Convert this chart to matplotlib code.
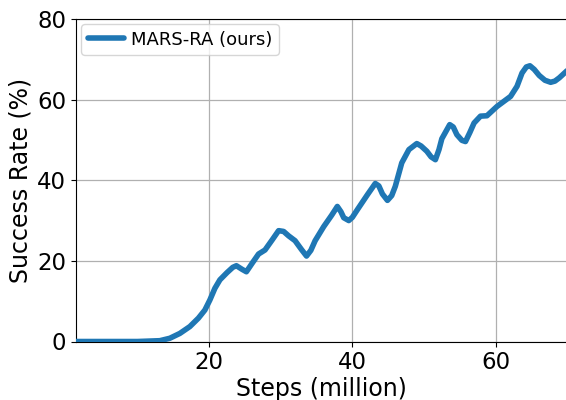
import matplotlib
matplotlib.use("Agg")
import matplotlib.pyplot as plt

# Training curve: success rate vs. environment steps (million)
steps = [1.4, 5.0, 10.0, 13.1, 14.5, 15.9, 17.3, 18.5, 19.4, 20.1, 20.8, 21.5,
         22.5, 23.3, 23.8, 24.6, 25.2, 26.0, 26.9, 27.8, 28.8, 29.7, 30.4,
         31.1, 32.0, 32.9, 33.6, 34.2, 34.8, 36.0, 37.1, 37.9, 38.4, 38.8,
         39.5, 40.0, 40.7, 42.1, 43.2, 43.7, 44.2, 44.9, 45.5, 46.0, 46.9,
         47.9, 49.0, 49.6, 50.4, 51.0, 51.6, 52.1, 52.5, 53.6, 54.1, 54.6,
         55.3, 55.8, 56.4, 57.0, 57.9, 58.8, 60.2, 62.1, 63.0, 63.7, 64.3,
         64.8, 65.4, 66.1, 66.9, 67.7, 68.3, 68.9, 70.0]
success = [0.0, 0.0, 0.0, 0.2, 0.8, 2.0, 3.7, 5.8, 7.8, 10.3, 13.2, 15.3,
           17.1, 18.4, 18.8, 17.9, 17.3, 19.4, 21.7, 22.7, 25.2, 27.5, 27.3,
           26.2, 25.0, 22.8, 21.2, 22.6, 25.0, 28.5, 31.3, 33.5, 32.2, 30.7,
           30.0, 30.8, 32.7, 36.4, 39.2, 38.6, 36.6, 35.0, 36.2, 38.5, 44.3,
           47.6, 49.1, 48.5, 47.2, 45.8, 45.1, 47.6, 50.3, 53.8, 53.2, 51.3,
           49.9, 49.6, 51.8, 54.2, 55.9, 56.0, 58.3, 60.8, 63.3, 66.6, 68.1,
           68.4, 67.5, 66.0, 64.8, 64.3, 64.6, 65.4, 67.2]

x_ticks = [20, 40, 60]
y_ticks = [0, 20, 40, 60, 80]

fig = plt.figure(figsize=(5.66, 4.0), dpi=100)
ax = fig.add_axes([76 / 566, 58.5 / 400, 1 - 76 / 566 + 0.002, 322.5 / 400])

ax.plot(steps, success, color="#1f77b4", linewidth=4, label="MARS-RA (ours)",
        solid_joinstyle="round", solid_capstyle="round", zorder=3)

ax.set_xlim(1.4, 70)
ax.set_ylim(0, 80)
ax.set_xticks(x_ticks)
ax.set_yticks(y_ticks)
ax.tick_params(axis="both", labelsize=16.5)
ax.grid(True, color="#b0b0b0", linewidth=0.9)
ax.set_axisbelow(True)

ax.set_xlabel("Steps (million)", fontsize=17, labelpad=2)
ax.set_ylabel("Success Rate (%)", fontsize=17, labelpad=3)

ax.legend(loc="upper left", fontsize=13, handlelength=2.0,
          borderaxespad=0.3, borderpad=0.35, handletextpad=0.4)

fig.savefig("out.png", dpi=100)
